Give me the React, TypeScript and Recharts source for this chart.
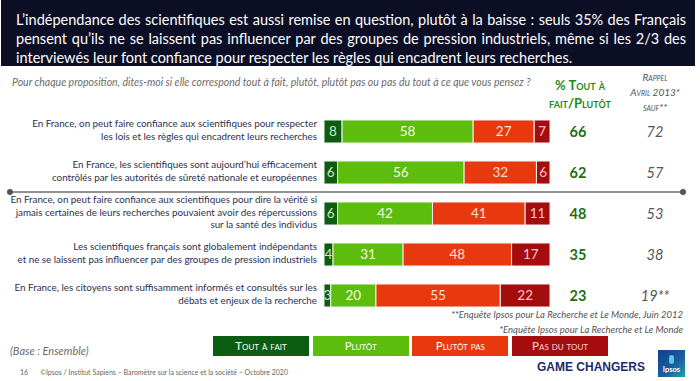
import React from 'react';
import { BarChart, Bar, XAxis, YAxis, LabelList } from 'recharts';

const categories: string[][] = [
  ['En France, on peut faire confiance aux scientifiques pour respecter', 'les lois et les règles qui encadrent leurs recherches'],
  ['En France, les scientifiques sont aujourd’hui efficacement', 'contrôlés par les autorités de sûreté nationale et européennes'],
  ['En France, on peut faire confiance aux scientifiques pour dire la vérité si', 'jamais certaines de leurs recherches pouvaient avoir des répercussions', 'sur la santé des individus'],
  ['Les scientifiques français sont globalement indépendants', 'et ne se laissent pas influencer par des groupes de pression industriels'],
  ['En France, les citoyens sont suffisamment informés et consultés sur les', 'débats et enjeux de la recherche'],
];
const toutAFait = [8, 6, 6, 4, 3];
const plutot = [58, 56, 42, 31, 20];
const plutotPas = [27, 32, 41, 48, 55];
const pasDuTout = [7, 6, 11, 17, 22];
const totalPositif = ['66', '62', '48', '35', '23'];
const rappel = ['72', '57', '53', '38', '19**'];

const seriesNames = ['Tout à fait', 'Plutôt', 'Plutôt pas', 'Pas du tout'];
const seriesKeys = ['toutAFait', 'plutot', 'plutotPas', 'pasDuTout'];
const seriesColors = ['#0c5c12', '#5cbd0c', '#e8380e', '#a50c0e'];
const labelColors = ['#cfe8c4', '#f4fbe6', '#ffe2cc', '#f6c6c6'];

const data = categories.map((lines, i) => ({
  key: 'r' + i,
  toutAFait: toutAFait[i],
  plutot: plutot[i],
  plutotPas: plutotPas[i],
  pasDuTout: pasDuTout[i],
}));

const FONT = 'Lato, "Open Sans", sans-serif';

const RowLabels = (props: any) => {
  const { y, height, index } = props;
  const i = typeof index === 'number' ? index : 0;
  const cy = Number(y) + Number(height) / 2;
  const lines = categories[i];
  if (!lines) return null;
  const lh = 12.3;
  const startY = cy - 2 - ((lines.length - 1) * lh) / 2;
  return (
    <g>
      <text x={317} y={startY} textAnchor="end" fontSize={9.8} fill="#2b3050" fontFamily={FONT}>
        {lines.map((l, k) => (
          <tspan key={k} x={317} y={startY + k * lh} dominantBaseline="central">
            {l}
          </tspan>
        ))}
      </text>
      <text x={578} y={cy} textAnchor="middle" dominantBaseline="central" fontSize={14.5} fontWeight={700} fill="#1f6e16" fontFamily={FONT}>
        {totalPositif[i]}
      </text>
      <text x={655} y={cy} textAnchor="middle" dominantBaseline="central" fontSize={14.5} fontStyle="italic" fill="#555" fontFamily={FONT}>
        {rappel[i]}
      </text>
    </g>
  );
};

export default function App() {
  return (
    <div style={{ position: 'absolute', left: 0, top: 0, width: 700, height: 381, background: '#fff', overflow: 'hidden', fontFamily: FONT }}>
      <div style={{ position: 'absolute', left: 1, top: 0, width: 694, height: 66, background: '#0c0e25' }} />
      {[
        'L’indépendance des scientifiques est aussi remise en question, plutôt à la baisse : seuls 35% des Français',
        'pensent qu’ils ne se laissent pas influencer par des groupes de pression industriels, même si les 2/3 des',
        'interviewés leur font confiance pour respecter les règles qui encadrent leurs recherches.',
      ].map((t, k) => (
        <div
          key={k}
          style={{
            position: 'absolute',
            left: 16,
            top: 10 + k * 19,
            width: k < 2 ? 670 : 'auto',
            color: '#fff',
            fontSize: 14.5,
            lineHeight: '19px',
            whiteSpace: 'nowrap',
            textAlign: 'justify',
            textAlignLast: k < 2 ? 'justify' : 'left',
          } as any}
        >
          {t}
        </div>
      ))}

      <div style={{ position: 'absolute', left: 12, top: 75, fontSize: 10.5, fontStyle: 'italic', color: '#6b6b6b', whiteSpace: 'nowrap', lineHeight: '14px' }}>
        Pour chaque proposition, dites-moi si elle correspond tout à fait, plutôt, plutôt pas ou pas du tout à ce que vous pensez ?
      </div>
      <div style={{ position: 'absolute', left: 530, width: 100, top: 76, textAlign: 'center', fontSize: 13, fontWeight: 700, color: '#1f8a16', fontVariant: 'small-caps', lineHeight: '18px' }}>
        % Tout à<br />fait/Plutôt
      </div>
      <div style={{ position: 'absolute', left: 615, width: 80, top: 70, textAlign: 'center', fontSize: 10, fontStyle: 'italic', color: '#555', fontVariant: 'small-caps', lineHeight: '15px' }}>
        Rappel<br />Avril 2013*<br />sauf**
      </div>

      <div style={{ position: 'absolute', left: 0, top: 0 }}>
        <BarChart width={700} height={381} data={data} layout="vertical" margin={{ top: 111, right: 150, bottom: 65, left: 324 }} barCategoryGap={0} style={{ overflow: 'visible' }}>
          <XAxis type="number" domain={[0, 100]} hide />
          <YAxis type="category" dataKey="key" hide />
          {seriesKeys.map((k, s) => (
            <Bar key={k} dataKey={k} name={seriesNames[s]} stackId="a" fill={seriesColors[s]} barSize={23} stroke="#f3f3f3" strokeWidth={1} isAnimationActive={false}>
              <LabelList dataKey={k} position="center" fill={labelColors[s]} fontSize={13.5} fontFamily={FONT} />
              {s === 0 ? <LabelList dataKey={k} content={<RowLabels />} /> : null}
            </Bar>
          ))}
        </BarChart>
      </div>

      <svg style={{ position: 'absolute', left: 0, top: 0 }} width={700} height={381}>
        <line x1={10} y1={192} x2={683} y2={192} stroke="#6e6e6e" strokeWidth={1.6} />
        <circle cx={10} cy={192} r={3} fill="#555" />
        <circle cx={683} cy={192} r={3} fill="#555" />
      </svg>

      <div style={{ position: 'absolute', right: 17, top: 308, fontSize: 9.5, fontStyle: 'italic', color: '#555', textAlign: 'right', lineHeight: '14.5px', whiteSpace: 'nowrap' }}>
        **Enquête Ipsos pour La Recherche et Le Monde, Juin 2012<br />*Enquête Ipsos pour La Recherche et Le Monde
      </div>

      {seriesNames.map((n, s) => (
        <div
          key={n}
          style={{
            position: 'absolute',
            left: 213 + s * 99.7,
            top: 336,
            width: 96,
            height: 20,
            background: seriesColors[s],
            color: s === 3 ? '#ffd6d6' : '#fff',
            fontSize: 11.5,
            fontVariant: 'small-caps',
            textAlign: 'center',
            lineHeight: '20px',
          }}
        >
          {n}
        </div>
      ))}

      <div style={{ position: 'absolute', left: 10, top: 343, fontSize: 11, fontStyle: 'italic', color: '#6b6b6b', lineHeight: '15px' }}>(Base : Ensemble)</div>
      <div style={{ position: 'absolute', left: 20, top: 367, fontSize: 7, color: '#666', lineHeight: '10px', whiteSpace: 'nowrap' }}>
        16<span style={{ marginLeft: 12 }}>©Ipsos / Institut Sapiens – Baromètre sur la science et la société – Octobre 2020</span>
      </div>
      <div style={{ position: 'absolute', left: 537, top: 360, fontSize: 12, fontWeight: 700, color: '#1b2b6b', fontFamily: '"Liberation Sans", Arial, sans-serif', lineHeight: '14px', whiteSpace: 'nowrap' }}>
        GAME CHANGERS
      </div>
      <div style={{ position: 'absolute', left: 658, top: 350, width: 27, height: 27, background: 'linear-gradient(135deg, #10418f 0%, #1b5aa0 55%, #19a7a3 100%)', color: '#fff', fontSize: 7.5, fontWeight: 700, textAlign: 'center', lineHeight: '8px' }}>
        <div style={{ width: 5, height: 9, borderRadius: 3, background: '#5fc6d9', margin: '5px auto 2px' }} />
        Ipsos
      </div>
    </div>
  );
}
